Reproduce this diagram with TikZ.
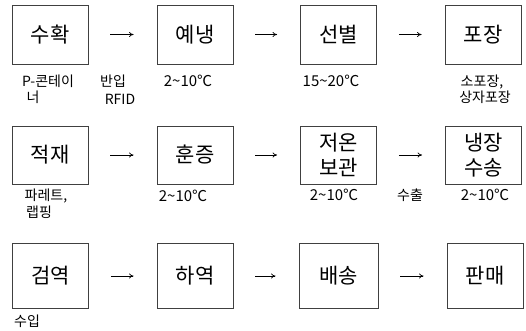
\documentclass[tikz,border=0pt]{standalone}
\usepackage{fontspec}
\setmainfont{Noto Sans CJK KR}
\usetikzlibrary{arrows.meta}
\newcommand{\tl}{\textasciitilde}
\tikzset{
  stage/.style={draw=black!75, line width=0.9pt, minimum width=76pt, inner sep=0pt,
    align=center, font=\fontsize{21}{25}\selectfont},
  flow/.style={-{To[length=4.5pt,width=5pt]}, line width=0.7pt, shorten >=23pt, shorten <=22pt},
  lbl/.style={inner sep=0pt, font=\fontsize{14}{16}\selectfont, align=center},
  num/.style={inner sep=0pt, font=\fontsize{15}{17}\selectfont},
}
\begin{document}
\begin{tikzpicture}[x=1pt,y=-1pt]
\useasboundingbox (0,0) rectangle (526,330);
% row 1
\node[stage, minimum height=59pt] (a1) at (50,34.5) {수확};
\node[stage, minimum height=59pt] (a2) at (195,34.5) {예냉};
\node[stage, minimum height=59pt] (a3) at (338.5,34.5) {선별};
\node[stage, minimum height=59pt] (a4) at (483,34.5) {포장};
% row 2
\node[stage, minimum height=58pt] (b1) at (50,155) {적재};
\node[stage, minimum height=58pt] (b2) at (195,155) {훈증};
\node[stage, minimum height=58pt] (b3) at (338.5,155) {저온\\보관};
\node[stage, minimum height=58pt] (b4) at (483.5,155) {냉장\\수송};
% row 3
\node[stage, minimum height=65pt] (c1) at (50.5,276) {검역};
\node[stage, minimum height=65pt] (c2) at (195,276) {하역};
\node[stage, minimum height=65pt, minimum width=79pt] (c3) at (338.5,276) {배송};
\node[stage, minimum height=65pt] (c4) at (485,276) {판매};
% arrows
\draw[flow] (a1) -- (a2);
\draw[flow] (a2) -- (a3);
\draw[flow] (a3) -- (a4);
\draw[flow] (b1) -- (b2);
\draw[flow] (b2) -- (b3);
\draw[flow] (b3) -- (b4);
\draw[flow] (c1) -- (c2);
\draw[flow] (c2) -- (c3);
\draw[flow] (c3) -- (c4);
% labels row 1
\node[lbl] (l1) at (48,81) {P-콘테이};
\node[lbl] (l2) at (33,97) {너};
\node[lbl] (l3) at (113,81) {반입};
\node[lbl] (l4) at (120,99) {RFID};
\node[num] (l5) at (188,81) {2\tl10℃};
\node[num] (l6) at (331,81) {15\tl20℃};
\node[lbl] (l7) at (482,82) {소포장,};
\node[lbl] (l8) at (485,97) {상자포장};
% labels row 2
\node[lbl] (m1) at (46,196) {파레트,};
\node[lbl] (m2) at (39,212) {랩핑};
\node[num] (m3) at (183,196) {2\tl10℃};
\node[num] (m4) at (334,195) {2\tl10℃};
\node[lbl] (m5) at (410,195) {수출};
\node[num] (m6) at (485,195) {2\tl10℃};
% labels row 3
\node[lbl] (n1) at (27,321) {수입};
\end{tikzpicture}
\end{document}
